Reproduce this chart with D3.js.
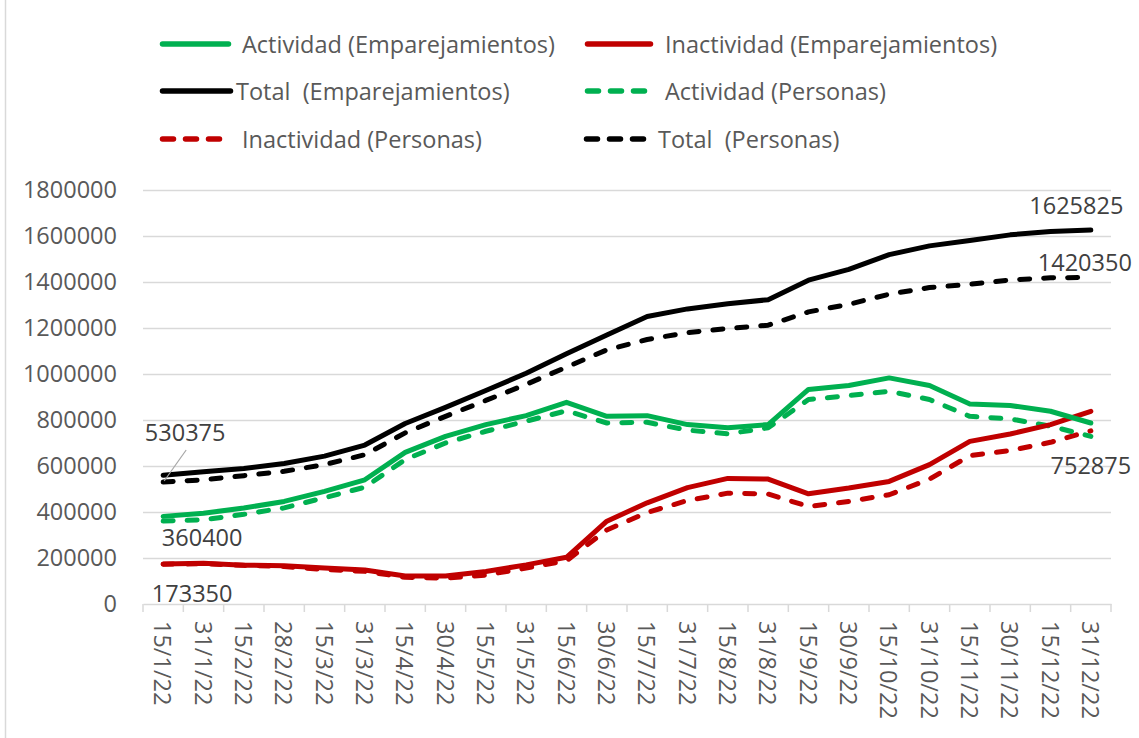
<!DOCTYPE html>
<html>
<head>
<meta charset="utf-8">
<script src="https://cdn.jsdelivr.net/npm/d3@7"></script>
<style>
  html, body { margin: 0; padding: 0; background: #ffffff; }
  svg { display: block; font-family: "Open Sans", "Liberation Sans", sans-serif; }
  text { white-space: pre; }
</style>
</head>
<body>
<svg id="chart" width="1139" height="738"></svg>
<script>
// ---------- DATA ----------
const categories = ["15/1/22","31/1/22","15/2/22","28/2/22","15/3/22","31/3/22","15/4/22","30/4/22","15/5/22","31/5/22","15/6/22","30/6/22","15/7/22","31/7/22","15/8/22","31/8/22","15/9/22","30/9/22","15/10/22","31/10/22","15/11/22","30/11/22","15/12/22","31/12/22"];

const actividadEmp = [381000, 395000, 417000, 446000, 490000, 540000, 659000, 729000, 780000, 819000, 877000, 816000, 819000, 780000, 766000, 780000, 933000, 950000, 983000, 950000, 870000, 863000, 838000, 787000];
const inactividadEmp = [174000, 177000, 169000, 166000, 156000, 148000, 122000, 122000, 141000, 170000, 203000, 360000, 440000, 506000, 546000, 543000, 479000, 504000, 533000, 606000, 707000, 739000, 780000, 838000];
const totalEmp = [560000, 575000, 589000, 611000, 643000, 691000, 785000, 855000, 928000, 1003000, 1088000, 1170000, 1250000, 1283000, 1305000, 1323000, 1408000, 1455000, 1519000, 1557000, 1580000, 1605000, 1620000, 1625825];
const actividadPer = [360400, 366000, 390000, 418000, 462000, 508000, 628000, 700000, 751000, 795000, 840000, 787000, 790000, 756000, 740000, 766000, 889000, 906000, 925000, 889000, 816000, 805000, 773000, 729000];
const inactividadPer = [173350, 175000, 168000, 163000, 150000, 142000, 116000, 112000, 126000, 156000, 188000, 322000, 398000, 450000, 482000, 478000, 424000, 446000, 475000, 543000, 645000, 667000, 703000, 752875];
const totalPer = [530375, 540000, 558000, 577000, 606000, 649000, 744000, 816000, 885000, 955000, 1030000, 1105000, 1150000, 1180000, 1198000, 1212000, 1270000, 1303000, 1347000, 1376000, 1390000, 1409000, 1418000, 1420350];

const seriesNames = ["Actividad (Emparejamientos)", "Inactividad (Emparejamientos)", "Total  (Emparejamientos)", "Actividad (Personas)", "Inactividad (Personas)", "Total  (Personas)"];
const yTicks = [0, 200000, 400000, 600000, 800000, 1000000, 1200000, 1400000, 1600000, 1800000];

// ---------- STYLE / LAYOUT ----------
const GREEN = "#00B050", RED = "#C00000", BLACK = "#000000";
const series = [
  { name: seriesNames[0], values: actividadEmp,   color: GREEN, dashed: false },
  { name: seriesNames[1], values: inactividadEmp, color: RED,   dashed: false },
  { name: seriesNames[2], values: totalEmp,       color: BLACK, dashed: false },
  { name: seriesNames[3], values: actividadPer,   color: GREEN, dashed: true },
  { name: seriesNames[4], values: inactividadPer, color: RED,   dashed: true },
  { name: seriesNames[5], values: totalPer,       color: BLACK, dashed: true }
];

const svg = d3.select("#chart");
const plot = { left: 143, right: 1111, top: 190, bottom: 604 };
const FONT = 23.5;
const TEXT = "#595959";
const GRID = "#D9D9D9";

const x = d3.scaleBand().domain(categories).range([plot.left, plot.right]).padding(0);
const y = d3.scaleLinear().domain([0, 1800000]).range([plot.bottom, plot.top]);
const cx = c => x(c) + x.bandwidth() / 2;

// left border
svg.append("line").attr("x1", 5.5).attr("x2", 5.5).attr("y1", 0).attr("y2", 738)
  .attr("stroke", GRID).attr("stroke-width", 1.5);

// gridlines + y labels
const yAxis = d3.axisLeft(y).tickValues(yTicks).tickSize(-(plot.right - plot.left)).tickPadding(26)
  .tickFormat(d => String(d));
const gy = svg.append("g").attr("transform", `translate(${plot.left},0)`).call(yAxis);
gy.select(".domain").remove();
gy.selectAll(".tick line").attr("stroke", GRID).attr("stroke-width", 1.5)
  .filter(d => d === 0).remove();
gy.selectAll(".tick text").attr("fill", TEXT).style("font-size", FONT + "px")
  .style("font-family", "'Open Sans', sans-serif");

// x axis
const xAxis = d3.axisBottom(x).tickSize(0).tickPadding(0);
const gx = svg.append("g").attr("transform", `translate(0,${plot.bottom})`).call(xAxis);
gx.select(".domain").attr("stroke", GRID).attr("stroke-width", 1.5);
const bounds = categories.map(c => x(c)).concat([plot.right]);
gx.selectAll(".btick").data(bounds).enter().append("line")
  .attr("class", "btick")
  .attr("x1", d => d).attr("x2", d => d).attr("y1", 0).attr("y2", 8)
  .attr("stroke", GRID).attr("stroke-width", 1.5);
gx.selectAll(".tick text")
  .attr("fill", TEXT).style("font-size", FONT + "px")
  .style("font-family", "'Open Sans', sans-serif")
  .attr("text-anchor", "start")
  .attr("dy", null).attr("y", null)
  .attr("transform", "translate(0,17) rotate(90)")
  .attr("dominant-baseline", "central");

// lines
const lineGen = d3.line().x((d, i) => cx(categories[i])).y(d => y(d));
const drawOrder = [4, 3, 5, 1, 0, 2];
drawOrder.forEach(k => {
  const s = series[k];
  svg.append("path")
    .datum(s.values)
    .attr("d", lineGen)
    .attr("fill", "none")
    .attr("stroke", s.color)
    .attr("stroke-width", 5)
    .attr("stroke-linejoin", "round")
    .attr("stroke-linecap", "round")
    .attr("stroke-dasharray", s.dashed ? "10,14" : null);
});

// data labels
const last = categories.length - 1;
const labels = [
  { s: totalPer,       i: 0,    dx: 22,    dy: -50 },
  { s: actividadPer,   i: 0,    dx: 39,    dy: 16 },
  { s: inactividadPer, i: 0,    dx: 29,    dy: 29 },
  { s: totalEmp,       i: last, dx: -14.5, dy: -25 },
  { s: totalPer,       i: last, dx: -6,    dy: -15 },
  { s: inactividadPer, i: last, dx: 0,     dy: 34 }
];
svg.append("line")
  .attr("x1", cx(categories[0]) + 23).attr("y1", y(totalPer[0]) - 32)
  .attr("x2", cx(categories[0]) + 1).attr("y2", y(totalPer[0]) - 1)
  .attr("stroke", "#A6A6A6").attr("stroke-width", 1.2);
svg.selectAll(".dlabel").data(labels).enter().append("text")
  .attr("class", "dlabel")
  .attr("x", d => cx(categories[d.i]) + d.dx)
  .attr("y", d => y(d.s[d.i]) + d.dy)
  .attr("text-anchor", "middle")
  .attr("dominant-baseline", "central")
  .attr("fill", "#404040")
  .style("font-size", FONT + "px")
  .text(d => String(d.s[d.i]));

// legend
const legendPos = [
  { lx: 160, lw: 71, tx: 242, ty: 44 },
  { lx: 585, lw: 68, tx: 665, ty: 44 },
  { lx: 160, lw: 73, tx: 236, ty: 91 },
  { lx: 585, lw: 66, tx: 665, ty: 91 },
  { lx: 160, lw: 66, tx: 242, ty: 139 },
  { lx: 584, lw: 62, tx: 658, ty: 139 }
];
const lg = svg.append("g");
series.forEach((s, k) => {
  const p = legendPos[k];
  lg.append("line")
    .attr("x1", p.lx + 2.5).attr("x2", p.lx + p.lw - 2.5)
    .attr("y1", p.ty).attr("y2", p.ty)
    .attr("stroke", s.color).attr("stroke-width", 5.5)
    .attr("stroke-linecap", "round")
    .attr("stroke-dasharray", s.dashed ? "11,12" : null);
  lg.append("text")
    .attr("x", p.tx).attr("y", p.ty)
    .attr("dominant-baseline", "central")
    .attr("fill", TEXT)
    .style("font-size", FONT + "px")
    .text(s.name);
});
</script>
</body>
</html>
